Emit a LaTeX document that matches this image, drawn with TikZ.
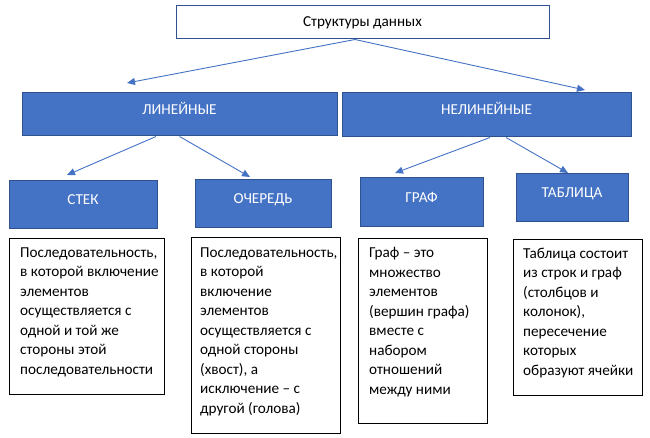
\documentclass[tikz,border=0pt]{standalone}
\usepackage{fontspec}
\setmainfont{Carlito}
\usetikzlibrary{arrows.meta}
\definecolor{fillblue}{HTML}{4472C4}
\definecolor{edgeblue}{HTML}{2F528F}
\begin{document}
\begin{tikzpicture}[x=1pt,y=-1pt,
  basefont/.style={font=\fontsize{15.2}{19.5}\selectfont},
  titlebox/.style={basefont, draw=edgeblue, fill=white, line width=1pt, text=black, inner sep=0pt},
  catbox/.style={basefont, draw=edgeblue, fill=fillblue, line width=1pt, text=white, inner sep=0pt, text height=8pt, text depth=8pt},
  descbox/.style={draw=black, line width=1pt, fill=white, anchor=north west, inner sep=0pt},
  desctext/.style={basefont, anchor=north west, inner sep=0pt, align=left, text=black},
  arr/.style={draw=fillblue, line width=0.9pt, -{Triangle[length=8pt,width=7pt]}}
]
\useasboundingbox (0,0) rectangle (650,438);
\fill[white] (0,0) rectangle (650,438);

\node[titlebox, minimum width=373pt, minimum height=33pt] (top) at (362.5,22.5) {Структуры данных};

\node[catbox, minimum width=315pt, minimum height=43pt] (lin) at (179.5,114.5) {ЛИНЕЙНЫЕ};
\node[catbox, minimum width=289pt, minimum height=44pt] (nonlin) at (486.5,115) {НЕЛИНЕЙНЫЕ};

\node[catbox, minimum width=148pt, minimum height=48pt] (stack) at (83,205) {СТЕК};
\node[catbox, minimum width=136pt, minimum height=48pt] (queue) at (263,204) {ОЧЕРЕДЬ};
\node[catbox, minimum width=123pt, minimum height=49pt] (graph) at (421.5,202.5) {ГРАФ};
\node[catbox, minimum width=112pt, minimum height=48pt] (table) at (572,198) {ТАБЛИЦА};

\node[descbox, minimum width=155pt, minimum height=156pt] (d1) at (9,238) {};
\node[descbox, minimum width=149pt, minimum height=196pt] (d2) at (191,237) {};
\node[descbox, minimum width=129pt, minimum height=185pt] (d3) at (358,238) {};
\node[descbox, minimum width=129pt, minimum height=156pt] (d4) at (513,239) {};

\node[desctext] (d1t) at (20,247.5) {Последовательность,\\в которой включение\\элементов\\осуществляется с\\одной и той же\\стороны этой\\последовательности};
\node[desctext] (d2t) at (200,247.5) {Последовательность,\\в которой\\включение\\элементов\\осуществляется с\\одной стороны\\(хвост), а\\исключение – с\\другой (голова)};
\node[desctext] (d3t) at (369,247.5) {Граф – это\\множество\\элементов\\(вершин графа)\\вместе с\\набором\\отношений\\между ними};
\node[desctext] (d4t) at (523,247.5) {Таблица состоит\\из строк и граф\\(столбцов и\\колонок),\\пересечение\\которых\\образуют ячейки};

\coordinate (tl) at (127,83);
\coordinate (tr) at (585,90);
\coordinate (s1) at (67,175);
\coordinate (s2) at (250,177);
\coordinate (g1) at (395,173);
\coordinate (g2) at (568,173);

\draw[arr] ([xshift=-7.5pt]top.south) -- (tl);
\draw[arr] ([xshift=-7.5pt]top.south) -- (tr);
\draw[arr] ([xshift=-23.5pt]lin.south) -- (s1);
\draw[arr] (lin.south) -- (s2);
\draw[arr] ([xshift=3.5pt]nonlin.south) -- (g1);
\draw[arr] ([xshift=19.5pt]nonlin.south) -- (g2);
\end{tikzpicture}
\end{document}
